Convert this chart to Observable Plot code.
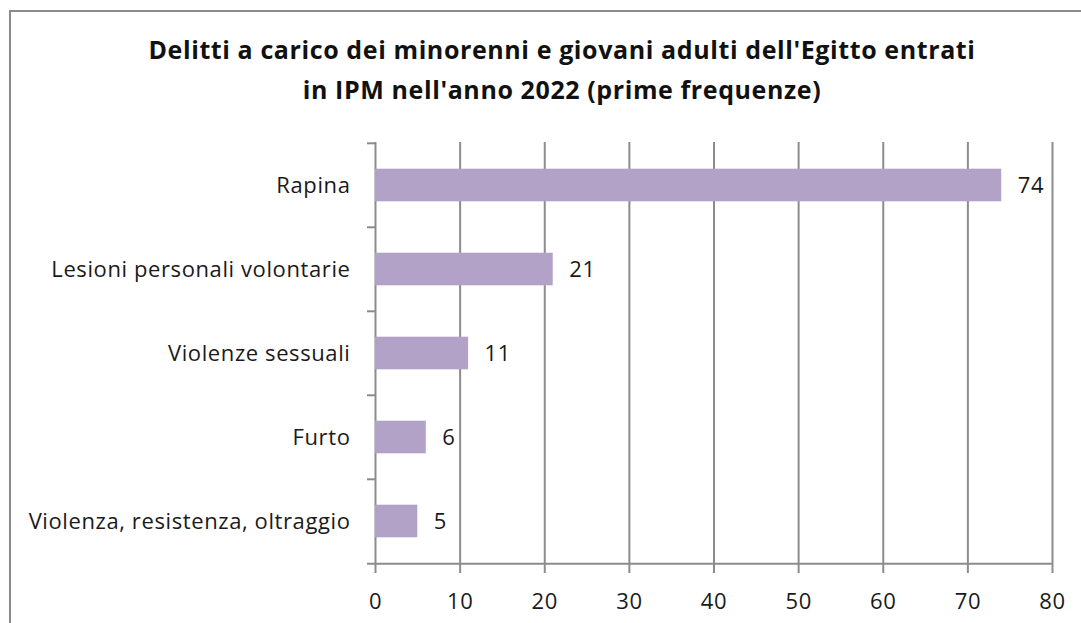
<!DOCTYPE html>
<html>
<head>
<meta charset="utf-8">
<script src="https://cdn.jsdelivr.net/npm/d3@7"></script>
<script src="https://cdn.jsdelivr.net/npm/@observablehq/plot@0.6"></script>
<style>
  html, body { margin: 0; padding: 0; background: #fff; }
  #wrap { position: relative; width: 1081px; height: 623px; overflow: hidden; background: #fff; font-family: "Open Sans", "Noto Sans", sans-serif; }
  #border { position: absolute; left: 9px; top: 10px; width: 1200px; height: 800px; border: 2px solid #8a8a8a; box-sizing: border-box; }
  #title { position: absolute; left: 0; top: 29px; width: 1124px; text-align: center; font-weight: bold; font-size: 25px; letter-spacing: 0.6px; line-height: 40px; color: #111; }
  #chart { position: absolute; left: 0; top: 120px; }
  #chart svg text { letter-spacing: 0.6px; }
</style>
</head>
<body>
<div id="wrap">
  <div id="border"></div>
  <div id="title">Delitti a carico dei minorenni e giovani adulti dell'Egitto entrati<br>in IPM nell'anno 2022 (prime frequenze)</div>
  <div id="chart"></div>
</div>
<script>
const categories = ["Rapina", "Lesioni personali volontarie", "Violenze sessuali", "Furto", "Violenza, resistenza, oltraggio"];
const values = [74, 21, 11, 6, 5];
const xTicks = [0, 10, 20, 30, 40, 50, 60, 70, 80];

const data = categories.map((c, i) => ({category: c, value: values[i]}));

const W = 1081, H = 503;
const mTop = 22, mBottom = 59, mLeft = 375, mRight = 29;
const step = (H - mTop - mBottom) / categories.length;
const barH = 33;
const inset = (step - barH) / 2;
const grey = "#8c8c8c";
const ink = "#1a1a1a";
const font = "'Open Sans', 'Noto Sans', sans-serif";

const chart = Plot.plot({
  width: W,
  height: H,
  marginTop: mTop,
  marginBottom: mBottom,
  marginLeft: mLeft,
  marginRight: mRight,
  style: {fontFamily: font, fontSize: "22px", color: ink, background: "transparent"},
  x: {domain: [0, 80], ticks: xTicks, label: null},
  y: {domain: categories, padding: 0, label: null},
  marks: [
    Plot.ruleX(xTicks, {x: d => d, stroke: grey, strokeWidth: 2, strokeOpacity: 1}),
    Plot.barX(data, {y: "category", x: "value", fill: "#b3a2c7", insetTop: inset, insetBottom: inset}),
    Plot.ruleY(categories, {y: d => d, dy: -step / 2, x1: 0, x2: 0, insetLeft: -8, stroke: grey, strokeWidth: 2}),
    Plot.ruleY([categories[categories.length - 1]], {y: d => d, dy: step / 2, insetLeft: -8, stroke: grey, strokeWidth: 2}),
    Plot.axisX({ticks: xTicks, tickSize: 9, tickPadding: 20, stroke: grey, strokeWidth: 2, fill: ink, fontSize: 22, label: null}),
    Plot.axisY({tickSize: 0, tickPadding: 25, fill: ink, fontSize: 22, label: null}),
    Plot.text(data, {y: "category", x: "value", text: d => String(d.value), dx: 16, textAnchor: "start", fill: ink, fontSize: 22})
  ]
});
document.getElementById("chart").appendChild(chart);
</script>
</body>
</html>
